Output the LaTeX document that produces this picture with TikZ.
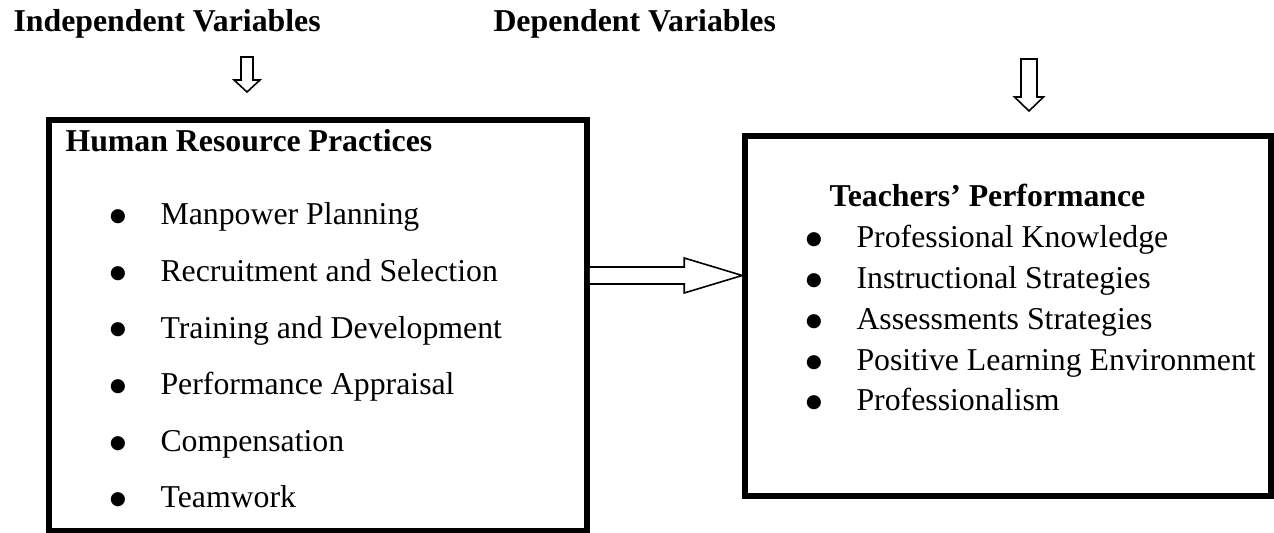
\documentclass[tikz,border=0pt]{standalone}
\usepackage{fontspec}
\setmainfont{Liberation Serif}
\newfontfamily\dotfont{DejaVu Sans}
\usetikzlibrary{calc}
\begin{document}
\begin{tikzpicture}[x=0.37736pt, y=-0.37736pt, line join=miter,
    font=\fontsize{12}{14}\selectfont,
    box/.style={draw, line width=2.1pt, inner sep=0pt},
    lbl/.style={anchor=base west, inner sep=0pt},
    bold/.style={lbl, font=\fontsize{12}{14}\selectfont\bfseries},
    bul/.style={anchor=center, inner sep=0pt, font=\dotfont\fontsize{7}{7}\selectfont},
    hollow/.style={draw, line width=0.6pt, fill=white}]
    \useasboundingbox (0,0) rectangle (1274,533);
    % Column headings
    \node[bold] (indep) at (13,32) {Independent Variables};
    \node[bold] (dep) at (493,32) {Dependent Variables};
    % The two boxes
    \node[box, minimum width=538*0.37736pt, minimum height=411*0.37736pt] (hrp) at (318,325.5) {};
    \node[box, minimum width=526*0.37736pt, minimum height=360*0.37736pt] (tp) at (1008,316) {};
    % Box headings
    \node[bold] (hrphead) at (65,152) {Human Resource Practices};
    \node[bold] (tphead) at (829,207) {Teachers’ Performance};
    % Left list
    \foreach \t [count=\i from 0] in {Manpower Planning, Recruitment and Selection,
        Training and Development, Performance Appraisal, Compensation, Teamwork} {
        \node[bul] (lb\i) at (118,217+56.6*\i) {●};
        \node[lbl] (li\i) at (160,225+56.6*\i) {\t};
    }
    % Right list
    \foreach \t [count=\i from 0] in {Professional Knowledge, Instructional Strategies,
        Assessments Strategies, Positive Learning Environment, Professionalism} {
        \node[bul] (rb\i) at (814,240+40.75*\i) {●};
        \node[lbl] (ri\i) at (856,248+40.75*\i) {\t};
    }
    % Down arrows under the headings
    \coordinate (ltop) at (247,57);
    \coordinate (ltip) at (247,92);
    \draw[hollow] ($(ltop)+(-6,0)$) -- ($(ltip)+(-6,-12)$) -- ($(ltip)+(-13,-12)$) -- (ltip)
        -- ($(ltip)+(13,-12)$) -- ($(ltip)+(6,-12)$) -- ($(ltop)+(6,0)$) -- cycle;
    \coordinate (rtop) at (1029,59);
    \coordinate (rtip) at (1029,111);
    \draw[hollow] ($(rtop)+(-8,0)$) -- ($(rtip)+(-8,-14)$) -- ($(rtip)+(-14.5,-14)$) -- (rtip)
        -- ($(rtip)+(14.5,-14)$) -- ($(rtip)+(8,-14)$) -- ($(rtop)+(8,0)$) -- cycle;
    % Arrow from practices to performance
    \coordinate (mid) at (0,275.5);
    \coordinate (mida) at (hrp.east |- mid);
    \coordinate (midb) at (tp.west |- mid);
    \draw[hollow] ($(mida)+(0,-8.5)$) -- ($(midb)+(-58,-8.5)$) -- ($(midb)+(-58,-17.5)$) -- (midb)
        -- ($(midb)+(-58,17.5)$) -- ($(midb)+(-58,8.5)$) -- ($(mida)+(0,8.5)$);
\end{tikzpicture}
\end{document}
